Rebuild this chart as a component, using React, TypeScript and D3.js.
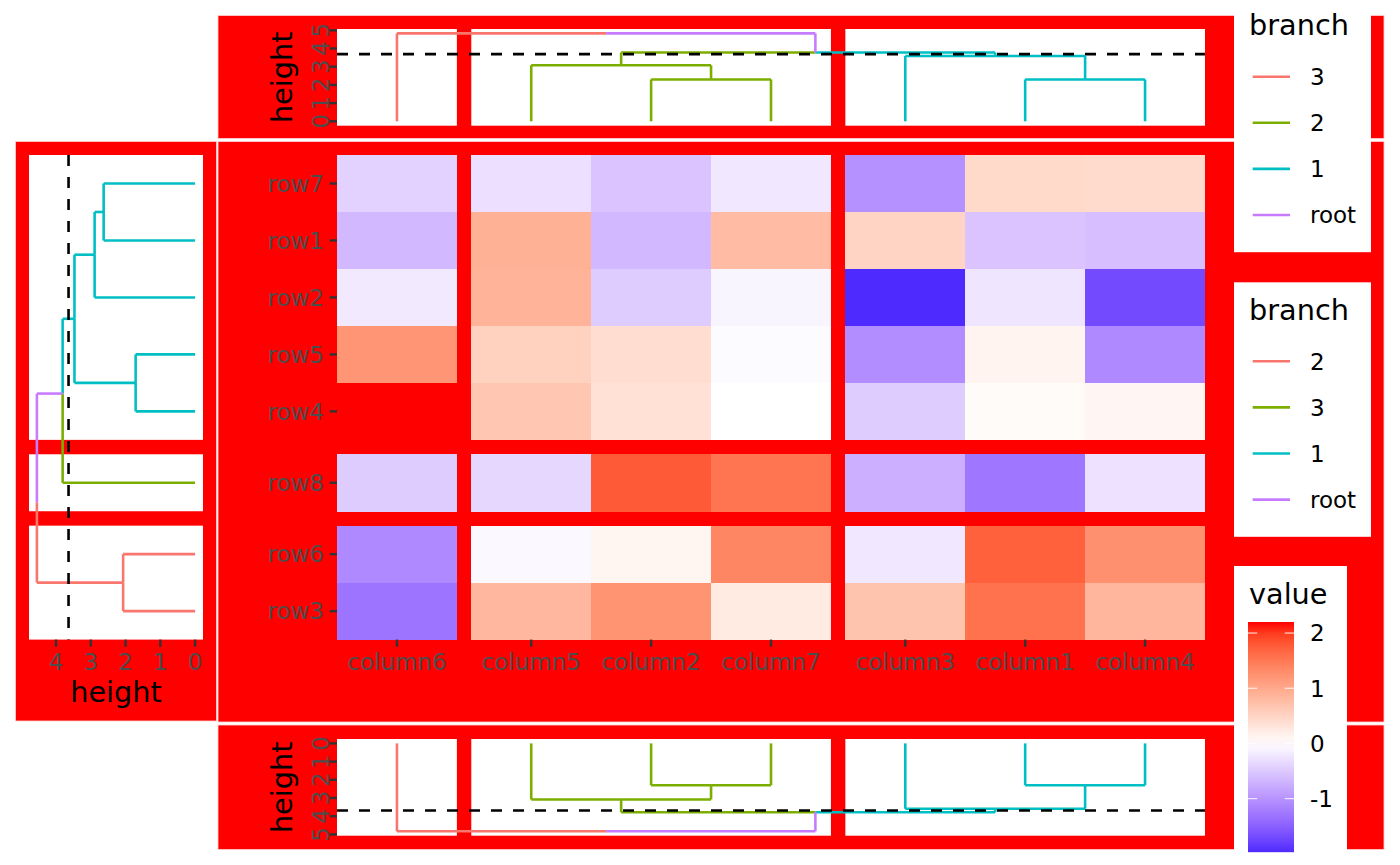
import React from "react";
import * as d3 from "d3";

// heatmap rows / columns in the order they are drawn
const rowNames = ["row7", "row1", "row2", "row5", "row4", "row8", "row6", "row3"];
const colNames = ["column6", "column5", "column2", "column7", "column3", "column1", "column4"];
const rowPanel = [0, 0, 0, 0, 0, 1, 2, 2];
const colPanel = [0, 1, 1, 1, 2, 2, 2];
const rowBranch = ["1", "1", "1", "1", "1", "3", "2", "2"];
const colBranch = ["3", "2", "2", "2", "1", "1", "1"];
const rowLevels = ["2", "3", "1", "root"];
const colLevels = ["3", "2", "1", "root"];
const branchColors = ["#F8766D", "#7CAE00", "#00BFC4", "#C77CFF"];

const values = [
  [-0.42, -0.29, -0.55, -0.22, -1.03, 0.45, 0.42], // row7
  [-0.66, 0.9, -0.66, 0.79, 0.5, -0.55, -0.6], // row1
  [-0.2, 0.88, -0.47, -0.09, -1.97, -0.24, -1.7], // row2
  [1.21, 0.53, 0.39, -0.04, -1.06, 0.13, -1.1], // row5
  [2.2, 0.66, 0.35, 0.0, -0.47, 0.05, 0.1], // row4
  [-0.47, -0.37, 1.78, 1.54, -0.73, -1.28, -0.27], // row8
  [-1.1, -0.06, 0.11, 1.37, -0.21, 1.72, 1.26], // row6
  [-1.3, 0.82, 1.22, 0.24, 0.69, 1.57, 0.85], // row3
];

// hclust style merges: negative = leaf (1-based, drawing order), positive = earlier merge
const colMerge = [[-3, -4], [-6, -7], [-2, 1], [-5, 2], [3, 4], [-1, 5]];
const colHeight = [2.3, 2.3, 3.08, 3.59, 3.78, 4.83];
const colCut = 3.69;
const rowMerge = [[-4, -5], [-7, -8], [-1, -2], [3, -3], [4, 1], [5, -6], [6, 2]];
const rowHeight = [1.71, 2.07, 2.63, 2.89, 3.47, 3.81, 4.55];
const rowCut = 3.64;

const heightTicks = [0, 1, 2, 3, 4, 5];
const leftTicks = [0, 1, 2, 3, 4];
const valueTicks = [-1, 0, 1, 2];

// layout
const HX0 = 337, HX1 = 1205, HY0 = 155, HY1 = 639.6, GAP = 14.4;
const FONT = "DejaVu Sans";
const TXT = 23, TITLE = 28.75;
const LW = 2.6;

function band(groups: number[], start: number, end: number) {
  const np = d3.max(groups)! + 1;
  const cell = (end - start - (np - 1) * GAP) / groups.length;
  const pix = (pos: number) => start + (pos - 0.5) * cell + groups[Math.ceil(pos - 1e-9) - 1] * GAP;
  const panels = d3.range(np).map((k) => {
    const idx = groups.map((g, i) => (g === k ? i : -1)).filter((i) => i >= 0);
    const a = idx[0], b = idx[idx.length - 1];
    return [start + a * cell + k * GAP, start + (b + 1) * cell + k * GAP];
  });
  return { cell, pix, panels };
}

type Node = { pos: number; h: number; branch: string; kids: Node[] };

function dendro(merge: number[][], heights: number[], leafBranch: string[], cut: number) {
  const leaves: Node[] = leafBranch.map((b, i) => ({ pos: i + 1, h: 0, branch: b, kids: [] }));
  const inner: Node[] = [];
  merge.forEach(([a, b], j) => {
    const kids = [a, b].map((k) => (k < 0 ? leaves[-k - 1] : inner[k - 1]));
    const h = heights[j];
    const same = kids[0].branch === kids[1].branch && kids[0].branch !== "root";
    inner.push({
      pos: (kids[0].pos + kids[1].pos) / 2,
      h,
      branch: h < cut && same ? kids[0].branch : "root",
      kids,
    });
  });
  const segs: { p1: number; p2: number; h1: number; h2: number; branch: string }[] = [];
  inner.forEach((n) => n.kids.forEach((c) => segs.push({ p1: n.pos, p2: c.pos, h1: n.h, h2: c.h, branch: c.branch })));
  return segs;
}

export default function App() {
  const cols = band(colPanel, HX0, HX1);
  const rows = band(rowPanel, HY0, HY1);

  const ext = d3.extent(values.flat()) as [number, number];
  const M = d3.max(ext.map(Math.abs))!;
  const fill = d3
    .scaleDiverging(d3.piecewise(d3.interpolateLab, ["blue", "white", "red"]))
    .domain([-M, 0, M]);

  const colColor = d3.scaleOrdinal<string, string>().domain(colLevels).range(branchColors);
  const rowColor = d3.scaleOrdinal<string, string>().domain(rowLevels).range(branchColors);

  const colSegs = dendro(colMerge, colHeight, colBranch, colCut);
  const rowSegs = dendro(rowMerge, rowHeight, rowBranch, rowCut);

  const colMax = d3.max(colHeight)!;
  const rowMax = d3.max(rowHeight)!;
  const topY = d3.scaleLinear().domain([-0.05 * colMax, 1.05 * colMax]).range([125.7, 29]);
  const botY = d3.scaleLinear().domain([-0.05 * colMax, 1.05 * colMax]).range([739, 835.7]);
  const leftX = d3.scaleLinear().domain([-0.05 * rowMax, 1.05 * rowMax]).range([203, 29]);

  const colDendro = (yS: d3.ScaleLinear<number, number>, key: string) =>
    colSegs.map((s, i) => {
      const x1 = cols.pix(s.p1), x2 = cols.pix(s.p2);
      const c = colColor(s.branch);
      return (
        <g key={key + i} stroke={c} strokeWidth={LW} fill="none">
          <line x1={x1} x2={x2} y1={yS(s.h1)} y2={yS(s.h1)} />
          <line x1={x2} x2={x2} y1={yS(s.h1)} y2={yS(s.h2)} />
        </g>
      );
    });

  const rowDendro = rowSegs.map((s, i) => {
    const y1 = rows.pix(s.p1), y2 = rows.pix(s.p2);
    const c = rowColor(s.branch);
    return (
      <g key={"r" + i} stroke={c} strokeWidth={LW} fill="none">
        <line y1={y1} y2={y2} x1={leftX(s.h1)} x2={leftX(s.h1)} />
        <line y1={y2} y2={y2} x1={leftX(s.h1)} x2={leftX(s.h2)} />
      </g>
    );
  });

  const heightAxis = (yS: d3.ScaleLinear<number, number>, key: string, cy: number) => (
    <g key={key}>
      {heightTicks.map((t) => (
        <g key={t}>
          <line x1={329.8} x2={337} y1={yS(t)} y2={yS(t)} stroke="#333333" strokeWidth={2.4} />
          <text transform={`translate(329,${yS(t)}) rotate(-90)`} textAnchor="middle" fill="#4D4D4D" fontSize={TXT}>
            {t}
          </text>
        </g>
      ))}
      <text transform={`translate(292,${cy}) rotate(-90)`} textAnchor="middle" fontSize={TITLE} fill="black">
        height
      </text>
    </g>
  );

  // legends
  const branchLegend = (top: number, levels: string[], color: (s: string) => string, key: string) => (
    <g key={key}>
      <rect x={1234} y={top} width={137} height={254.5} fill="white" />
      <text x={1249} y={top + 37.2} fontSize={TITLE}>branch</text>
      {levels.map((l, i) => {
        const y = top + 79 + i * 46.1;
        return (
          <g key={l}>
            <line x1={1252.7} x2={1290} y1={y} y2={y} stroke={color(l)} strokeWidth={LW} />
            <text x={1310} y={y + 8.3} fontSize={TXT}>{l}</text>
          </g>
        );
      })}
    </g>
  );

  const barTop = 622, barPerUnit = 55.2;
  const barY = d3.scaleLinear().domain([ext[1], ext[0]]).range([barTop, barTop + (ext[1] - ext[0]) * barPerUnit]);
  const stops = d3.range(0, 1.0001, 0.05).map((f) => ext[1] - f * (ext[1] - ext[0]));

  const boxes = [
    [15.5, 141.5, 216.5, 721],
    [218, 15.5, 1384, 138.5],
    [218, 141.5, 1384, 722],
    [218, 725, 1384, 849.5],
  ];

  return (
    <svg width={1400} height={865} style={{ position: "absolute", left: 0, top: 0 }} fontFamily={FONT}>
      <defs>
        <linearGradient id="bar" x1="0" x2="0" y1="0" y2="1">
          {stops.map((v, i) => (
            <stop key={i} offset={i / (stops.length - 1)} stopColor={fill(v)} />
          ))}
        </linearGradient>
      </defs>
      <rect width={1400} height={865} fill="white" />
      {boxes.map(([x0, y0, x1, y1], i) => (
        <rect key={i} x={x0} y={y0} width={x1 - x0} height={y1 - y0} fill="red" stroke="#FFD2D2" strokeWidth={0.8} />
      ))}

      {/* white panels of the dendrograms */}
      {cols.panels.map(([a, b], i) => (
        <g key={"cp" + i}>
          <rect x={a} y={29} width={b - a} height={96.7} fill="white" />
          <rect x={a} y={739} width={b - a} height={96.7} fill="white" />
        </g>
      ))}
      {rows.panels.map(([a, b], i) => (
        <rect key={"rp" + i} x={29} y={a} width={174} height={b - a} fill="white" />
      ))}

      {/* heatmap */}
      <g shapeRendering="crispEdges">
        {values.map((row, r) =>
          row.map((v, c) => (
            <rect
              key={r + "-" + c}
              x={cols.pix(c + 1) - cols.cell / 2}
              y={rows.pix(r + 1) - rows.cell / 2}
              width={cols.cell + 0.4}
              height={rows.cell + 0.4}
              fill={fill(v)}
            />
          ))
        )}
      </g>
      {rowNames.map((n, i) => (
        <g key={n}>
          <line x1={329.8} x2={337} y1={rows.pix(i + 1)} y2={rows.pix(i + 1)} stroke="#333333" strokeWidth={2.4} />
          <text x={324} y={rows.pix(i + 1) + 8.3} textAnchor="end" fontSize={TXT} fill="#4D4D4D">{n}</text>
        </g>
      ))}
      {colNames.map((n, i) => (
        <g key={n}>
          <line x1={cols.pix(i + 1)} x2={cols.pix(i + 1)} y1={HY1} y2={HY1 + 7.2} stroke="#333333" strokeWidth={2.4} />
          <text x={cols.pix(i + 1)} y={670} textAnchor="middle" fontSize={TXT} fill="#4D4D4D">{n}</text>
        </g>
      ))}

      {/* column dendrograms, top and bottom */}
      {colDendro(topY, "t")}
      {colDendro(botY, "b")}
      <line x1={HX0} x2={HX1} y1={topY(colCut)} y2={topY(colCut)} stroke="black" strokeWidth={LW} strokeDasharray="11,11" />
      <line x1={HX0} x2={HX1} y1={botY(colCut)} y2={botY(colCut)} stroke="black" strokeWidth={LW} strokeDasharray="11,11" />
      {heightAxis(topY, "ta", 77.3)}
      {heightAxis(botY, "ba", 787.3)}

      {/* row dendrogram */}
      {rowDendro}
      <line x1={leftX(rowCut)} x2={leftX(rowCut)} y1={HY0} y2={HY1} stroke="black" strokeWidth={LW} strokeDasharray="11,11" />
      {leftTicks.map((t) => (
        <g key={"lt" + t}>
          <line x1={leftX(t)} x2={leftX(t)} y1={HY1} y2={HY1 + 7.2} stroke="#333333" strokeWidth={2.4} />
          <text x={leftX(t)} y={669.5} textAnchor="middle" fontSize={TXT} fill="#4D4D4D">{t}</text>
        </g>
      ))}
      <text x={116} y={702} textAnchor="middle" fontSize={TITLE}>height</text>

      {/* legends */}
      {branchLegend(-2.3, colLevels, colColor, "l1")}
      {branchLegend(282.3, rowLevels, rowColor, "l2")}
      <g>
        <rect x={1234} y={566} width={113} height={302} fill="white" />
        <text x={1249} y={603.5} fontSize={TITLE}>value</text>
        <rect x={1248} y={barTop} width={46} height={barY(ext[0]) - barTop} fill="url(#bar)" />
        {valueTicks.map((t) => (
          <g key={"v" + t}>
            <line x1={1248} x2={1257.2} y1={barY(t)} y2={barY(t)} stroke="white" strokeWidth={1.1} opacity={0.85} />
            <line x1={1284.8} x2={1294} y1={barY(t)} y2={barY(t)} stroke="white" strokeWidth={1.1} opacity={0.85} />
            <text x={1310} y={barY(t) + 8.3} fontSize={TXT}>{t}</text>
          </g>
        ))}
      </g>
    </svg>
  );
}
